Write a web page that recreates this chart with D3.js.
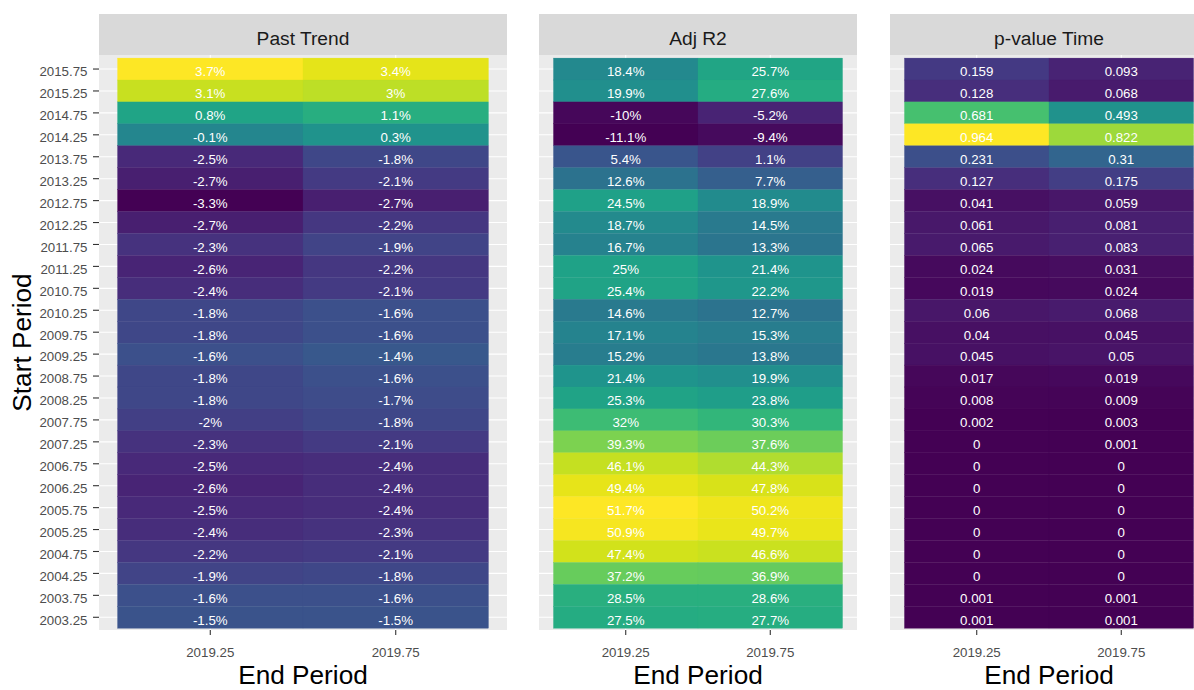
<!DOCTYPE html>
<html>
<head>
<meta charset="utf-8">
<script src="https://cdn.jsdelivr.net/npm/d3@7"></script>
<style>
html,body{margin:0;padding:0;background:#fff;}
svg{display:block;font-family:"Liberation Sans",Arial,Helvetica,sans-serif;}
</style>
</head>
<body>
<svg id="chart" width="1194" height="690"></svg>
<script>
const startPeriods = [2015.75,2015.25,2014.75,2014.25,2013.75,2013.25,2012.75,2012.25,2011.75,2011.25,2010.75,2010.25,2009.75,2009.25,2008.75,2008.25,2007.75,2007.25,2006.75,2006.25,2005.75,2005.25,2004.75,2004.25,2003.75,2003.25];
const endPeriods = [2019.25, 2019.75];
const panelTitles = ["Past Trend", "Adj R2", "p-value Time"];

const trendEnd1925 = [3.7,3.1,0.8,-0.1,-2.5,-2.7,-3.3,-2.7,-2.3,-2.6,-2.4,-1.8,-1.8,-1.6,-1.8,-1.8,-2,-2.3,-2.5,-2.6,-2.5,-2.4,-2.2,-1.9,-1.6,-1.5];
const trendEnd1975 = [3.4,3,1.1,0.3,-1.8,-2.1,-2.7,-2.2,-1.9,-2.2,-2.1,-1.6,-1.6,-1.4,-1.6,-1.7,-1.8,-2.1,-2.4,-2.4,-2.4,-2.3,-2.1,-1.8,-1.6,-1.5];
const adjR2End1925 = [18.4,19.9,-10,-11.1,5.4,12.6,24.5,18.7,16.7,25,25.4,14.6,17.1,15.2,21.4,25.3,32,39.3,46.1,49.4,51.7,50.9,47.4,37.2,28.5,27.5];
const adjR2End1975 = [25.7,27.6,-5.2,-9.4,1.1,7.7,18.9,14.5,13.3,21.4,22.2,12.7,15.3,13.8,19.9,23.8,30.3,37.6,44.3,47.8,50.2,49.7,46.6,36.9,28.6,27.7];
const pvalEnd1925 = [0.159,0.128,0.681,0.964,0.231,0.127,0.041,0.061,0.065,0.024,0.019,0.06,0.04,0.045,0.017,0.008,0.002,0,0,0,0,0,0,0,0.001,0.001];
const pvalEnd1975 = [0.093,0.068,0.493,0.822,0.31,0.175,0.059,0.081,0.083,0.031,0.024,0.068,0.045,0.05,0.019,0.009,0.003,0.001,0,0,0,0,0,0,0.001,0.001];

const panelsData = [
  {title: panelTitles[0], cols: [trendEnd1925, trendEnd1975], fmt: v => v + "%"},
  {title: panelTitles[1], cols: [adjR2End1925, adjR2End1975], fmt: v => v + "%"},
  {title: panelTitles[2], cols: [pvalEnd1925, pvalEnd1975], fmt: v => String(v)}
];

const svg = d3.select("#chart");
const panelX = [[99, 507], [539, 857], [890, 1208]];
const panelTop = 55, panelBottom = 630, stripTop = 14;

const y = d3.scaleLinear().domain([2002.96, 2016.07]).range([panelBottom, panelTop]);

panelsData.forEach((p, pi) => {
  const [x0, x1] = panelX[pi];
  const x = d3.scaleLinear().domain([2018.95, 2020.05]).range([x0, x1]);
  const g = svg.append("g");
  const all = p.cols.flat();
  const color = d3.scaleSequential(d3.interpolateViridis).domain(d3.extent(all));

  // strip
  g.append("rect").attr("x", x0).attr("y", stripTop).attr("width", x1 - x0).attr("height", panelTop - stripTop).attr("fill", "#d9d9d9");
  g.append("text").attr("x", (x0 + x1) / 2).attr("y", 38).attr("dy", "0.36em")
    .attr("text-anchor", "middle").attr("font-size", 19.2).attr("fill", "#1a1a1a").text(p.title);

  // panel bg
  g.append("rect").attr("x", x0).attr("y", panelTop).attr("width", x1 - x0).attr("height", panelBottom - panelTop).attr("fill", "#ebebeb");
  // grid
  g.selectAll(".hg").data(startPeriods).join("line")
    .attr("x1", x0).attr("x2", x1).attr("y1", d => y(d)).attr("y2", d => y(d))
    .attr("stroke", "#fff").attr("stroke-width", 1.1);
  g.selectAll(".vg").data(endPeriods).join("line")
    .attr("y1", panelTop).attr("y2", panelBottom).attr("x1", d => x(d)).attr("x2", d => x(d))
    .attr("stroke", "#fff").attr("stroke-width", 1.1);

  // tiles
  endPeriods.forEach((ep, ci) => {
    const vals = p.cols[ci];
    g.selectAll(".t" + ci).data(startPeriods).join("rect")
      .attr("x", x(ep - 0.25)).attr("width", x(ep + 0.25) - x(ep - 0.25))
      .attr("y", d => y(d + 0.25)).attr("height", d => y(d - 0.25) - y(d + 0.25))
      .attr("fill", (d, i) => color(vals[i]))
      .attr("stroke", (d, i) => color(vals[i])).attr("stroke-width", 0.3);
    g.selectAll(".l" + ci).data(startPeriods).join("text")
      .attr("x", x(ep)).attr("y", d => y(d)).attr("dy", "0.55em")
      .attr("text-anchor", "middle").attr("font-size", 13.3).attr("fill", "#ffffff")
      .text((d, i) => p.fmt(vals[i]));
  });

  // x axis ticks
  g.selectAll(".xt").data(endPeriods).join("line")
    .attr("x1", d => x(d)).attr("x2", d => x(d)).attr("y1", panelBottom).attr("y2", panelBottom + 5)
    .attr("stroke", "#333").attr("stroke-width", 1.1);
  g.selectAll(".xl").data(endPeriods).join("text")
    .attr("x", d => x(d)).attr("y", 652).attr("dy", "0.36em")
    .attr("text-anchor", "middle").attr("font-size", 13.3).attr("fill", "#4d4d4d").text(d => d);
  g.append("text").attr("x", (x0 + x1) / 2).attr("y", 684)
    .attr("text-anchor", "middle").attr("font-size", 26.2).attr("fill", "#000").text("End Period");

  if (pi === 0) {
    g.selectAll(".yt").data(startPeriods).join("line")
      .attr("x1", x0 - 6).attr("x2", x0).attr("y1", d => y(d)).attr("y2", d => y(d))
      .attr("stroke", "#333").attr("stroke-width", 1.1);
    g.selectAll(".yl").data(startPeriods).join("text")
      .attr("x", x0 - 11.5).attr("y", d => y(d)).attr("dy", "0.55em")
      .attr("text-anchor", "end").attr("font-size", 13.3).attr("fill", "#4d4d4d").text(d => d);
    g.append("text").attr("transform", `translate(31,${(panelTop + panelBottom) / 2}) rotate(-90)`)
      .attr("text-anchor", "middle").attr("font-size", 26.2).attr("fill", "#000").text("Start Period");
  }
});
</script>
</body>
</html>
